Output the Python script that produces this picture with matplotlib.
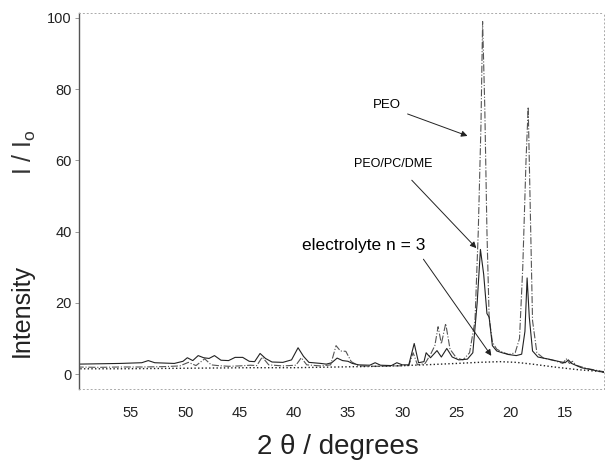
import matplotlib.pyplot as plt

# PEO (dash-dot) - 2theta, intensity
peo_x = [60, 58, 56, 54, 52, 50.5, 49.7, 49.0, 48.2, 47.6, 47, 46, 45, 44, 43.4, 42.9, 42.3,
         41, 39.8, 39.3, 38.8, 37.5, 36.6, 36.1, 35.7, 35.2, 34.7, 34, 32.5, 30.5, 29.4, 29.0,
         28.6, 27.9, 27.4, 27.0, 26.7, 26.4, 26.0, 25.6, 25.0, 24.4, 23.8, 23.3, 23.0, 22.75,
         22.6, 22.4, 22.2, 22.0, 21.7, 21.3, 20.8, 20.2, 19.6, 19.2, 18.9, 18.6, 18.4, 18.2,
         18.0, 17.6, 17.0, 16, 15.2, 14.9, 14.6, 14.3, 14, 13, 12, 11.3]
peo_y = [2.0, 1.9, 2.0, 2.0, 2.1, 2.3, 3.3, 2.4, 4.3, 2.6, 2.4, 2.2, 2.3, 2.5, 2.4, 4.8, 2.6,
         2.3, 2.5, 4.6, 2.6, 2.3, 2.6, 8.0, 6.5, 6.4, 3.5, 2.3, 2.2, 2.3, 2.4, 6.0,
         2.6, 3.0, 5.5, 8.0, 13.3, 8.5, 14.2, 7.0, 4.5, 4.0, 6.0, 15, 40, 70,
         99, 75, 40, 16, 9, 7, 6.2, 5.5, 6.0, 10, 30, 60, 75, 45,
         15, 6, 4.5, 3.8, 3.0, 4.3, 3.0, 3.6, 2.5, 1.6, 1.0, 0.6]

# PEO/PC/DME (solid)
pcd_x = [60, 58, 56, 54, 53.4, 52.8, 51, 50.2, 49.8, 49.3, 48.8, 48.3, 47.8, 47.3, 46.7, 46,
         45.4, 44.7, 44.1, 43.6, 43.1, 42.6, 42, 41, 40.2, 39.6, 39.1, 38.6, 37.5, 37.0, 36.5,
         36.0, 35.5, 35.0, 34.6, 34, 33, 32.5, 32, 31, 30.5, 30, 29.4, 28.9, 28.5, 28.0, 27.8,
         27.4, 26.8, 26.4, 25.9, 25.4, 24.8, 24.0, 23.5, 23.1, 22.8, 22.5, 22.2, 22.0, 21.7,
         21.3, 20.8, 20.2, 19.5, 19.0, 18.7, 18.5, 18.3, 18.0, 17.5, 16.5, 15.5, 15.0, 14.7,
         14.4, 13.5, 12.5, 11.3]
pcd_y = [2.8, 2.9, 3.0, 3.2, 3.8, 3.2, 3.0, 3.6, 4.6, 3.8, 5.2, 4.6, 4.4, 5.2, 3.9, 3.8,
         4.7, 4.7, 3.6, 3.5, 5.8, 4.4, 3.4, 3.3, 4.0, 7.4, 5.0, 3.3, 3.0, 2.8, 3.2,
         4.5, 3.8, 3.6, 3.0, 2.6, 2.5, 3.2, 2.5, 2.4, 3.2, 2.6, 2.6, 8.6, 3.2, 3.5, 6.0,
         4.6, 6.6, 4.8, 7.2, 4.8, 4.0, 4.2, 6.0, 20, 35, 28, 17, 16, 8,
         6.5, 6.0, 5.5, 5.2, 5.6, 12, 27, 16, 6.5, 4.8, 4.2, 3.5, 3.2, 4.0,
         3.0, 1.8, 1.2, 0.4]

# electrolyte n = 3 (dotted)
ele_x = [60, 56, 52, 48, 44, 40, 36, 32, 28, 25, 23, 21, 19.5, 18, 16, 14, 12, 11.3]
ele_y = [1.5, 1.5, 1.6, 1.7, 1.8, 1.8, 2.0, 2.2, 2.6, 3.0, 3.3, 3.5, 3.3, 2.8, 2.0, 1.3, 0.8, 0.6]

xticks = [55, 50, 45, 40, 35, 30, 25, 20, 15]
yticks = [0, 20, 40, 60, 80, 100]

plt.rcParams['font.family'] = ['Liberation Sans', 'DejaVu Sans']
plt.rcParams['mathtext.fontset'] = 'custom'
plt.rcParams['mathtext.rm'] = 'Liberation Sans'

fig = plt.figure(figsize=(6.06, 4.61), dpi=100)
ax = fig.add_axes([0.130, 0.156, 0.867, 0.816])

ax.plot(peo_x, peo_y, color='#555555', lw=0.8, ls='-.')
ax.plot(pcd_x, pcd_y, color='#222222', lw=0.8, ls='-')
ax.plot(ele_x, ele_y, color='#222222', lw=1.0, ls=':')

ax.set_xlim(59.8, 11.4)
ax.set_ylim(-4.2, 101.4)
ax.set_xticks(xticks)
ax.set_yticks(yticks)
ax.tick_params(axis='x', length=0, pad=12, labelsize=10.5, labelcolor='#222222')
ax.tick_params(axis='y', length=3, width=0.6, color='#888888', pad=2,
               labelsize=10.5, labelcolor='#222222')

ax.spines['left'].set_color('#555555')
ax.spines['left'].set_linewidth(1.0)
for s in ['top', 'bottom', 'right']:
    ax.spines[s].set_color('#aaaaaa')
    ax.spines[s].set_linewidth(0.7)
    ax.spines[s].set_linestyle((0, (1, 3)))

arrow = dict(arrowstyle='-|>', color='#222222', lw=0.7, mutation_scale=9)
ax.annotate('', xy=(23.75, 66.6), xytext=(29.75, 73.3), arrowprops=arrow)
ax.text(31.4, 75.6, 'PEO', fontsize=9.5, ha='center', va='center')
ax.annotate('', xy=(23.0, 34.8), xytext=(29.3, 55), arrowprops=arrow)
ax.text(30.85, 59, 'PEO/PC/DME', fontsize=9, ha='center', va='center')
ax.annotate('', xy=(21.65, 4.5), xytext=(28.2, 32.9), arrowprops=arrow)
ax.text(33.6, 36.2, 'electrolyte n = 3', fontsize=12.5, ha='center', va='center')

fig.text(22 / 606, 1 - 310 / 461, 'Intensity', rotation=90,
         fontsize=18, ha='center', va='center', color='#222222')
fig.text(24 / 606, 1 - 152 / 461, r'I / I$_\mathrm{o}$', rotation=90,
         fontsize=18, ha='center', va='center', color='#333333')
fig.text(338 / 606, 1 - 447 / 461, '2 θ / degrees', fontsize=20, ha='center', va='center',
         color='#222222')

fig.savefig('out.png', dpi=100)
